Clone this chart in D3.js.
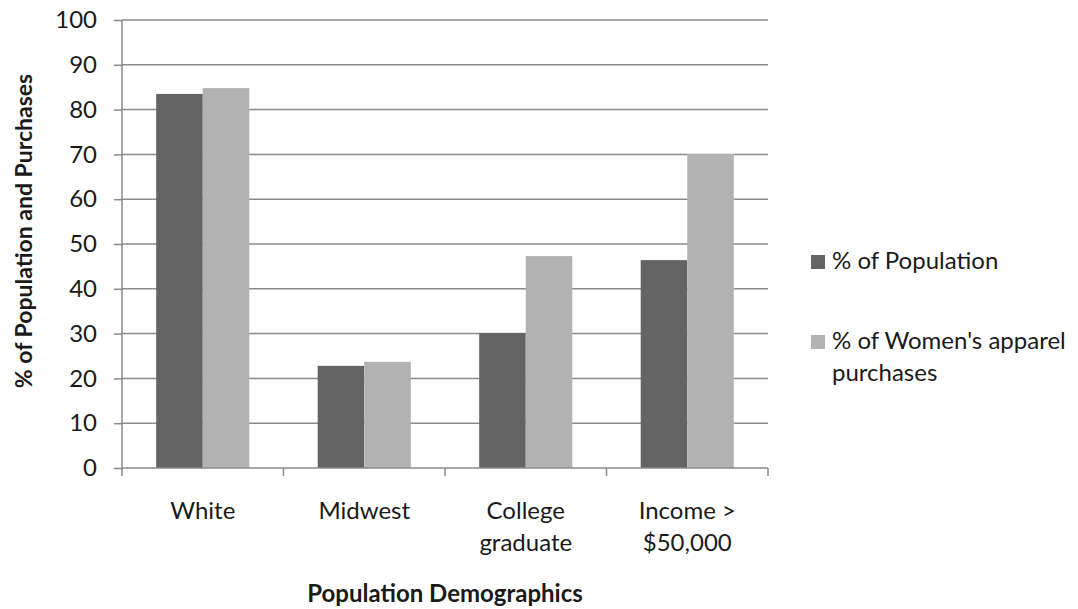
<!DOCTYPE html>
<html>
<head>
<meta charset="utf-8">
<script src="https://cdn.jsdelivr.net/npm/d3@7"></script>
<style>
  html, body { margin: 0; padding: 0; background: #fff; }
  svg { display: block; font-family: Lato, "Open Sans", sans-serif; }
</style>
</head>
<body>
<svg id="chart" width="1078" height="609"></svg>
<script>
// Demographic groups and the two compared shares (%)
const categories = [["White"], ["Midwest"], ["College", "graduate"], ["Income >", "$50,000"]];
const seriesNames = ["% of Population", "% of Women's apparel purchases"];
const populationShare = [83.5, 22.8, 30.1, 46.4];
const apparelShare = [84.8, 23.7, 47.3, 70.1];
const yTicks = [0, 10, 20, 30, 40, 50, 60, 70, 80, 90, 100];

const colors = ["#636363", "#b2b2b2"];
const gridColor = "#8a8a8a";
const textColor = "#1a1a1a";
const fontSize = "24px";

const svg = d3.select("#chart");
const plot = { left: 122, right: 768, top: 20, bottom: 468 };

const x = d3.scaleBand()
  .domain(d3.range(categories.length))
  .range([plot.left, plot.right])
  .paddingInner(0).paddingOuter(0);

const inner = d3.scaleBand()
  .domain([0, 1])
  .range([0, x.bandwidth()])
  .paddingInner(0)
  .paddingOuter(0.735);

const y = d3.scaleLinear().domain([0, 100]).range([plot.bottom, plot.top]);

// Horizontal gridlines
svg.append("g")
  .selectAll("line")
  .data(yTicks.filter(t => t > 0))
  .join("line")
  .attr("x1", plot.left).attr("x2", plot.right)
  .attr("y1", d => y(d)).attr("y2", d => y(d))
  .attr("stroke", gridColor).attr("stroke-width", 1.5);

// Bars
const series = [populationShare, apparelShare];
series.forEach((vals, s) => {
  svg.append("g")
    .selectAll("rect")
    .data(vals)
    .join("rect")
    .attr("x", (d, i) => x(i) + inner(s))
    .attr("y", d => y(d))
    .attr("width", inner.bandwidth())
    .attr("height", d => y(0) - y(d))
    .attr("fill", colors[s]);
});

// Y axis
const yAxis = svg.append("g")
  .attr("transform", `translate(${plot.left},0)`)
  .call(d3.axisLeft(y).tickValues(yTicks).tickSize(8).tickPadding(17).tickFormat(d3.format("d")));
yAxis.select(".domain").attr("stroke", gridColor).attr("stroke-width", 1.5).attr("d", `M0,${plot.top}V${plot.bottom}`);
yAxis.selectAll(".tick line").attr("stroke", gridColor).attr("stroke-width", 1.5);
yAxis.selectAll(".tick text").attr("fill", textColor).style("font-size", fontSize).attr("font-family", "Lato");

// X axis (category boundaries as ticks)
const xAxisG = svg.append("g");
xAxisG.append("line")
  .attr("x1", plot.left).attr("x2", plot.right)
  .attr("y1", plot.bottom).attr("y2", plot.bottom)
  .attr("stroke", gridColor).attr("stroke-width", 1.5);
xAxisG.selectAll("line.tick")
  .data(d3.range(categories.length + 1))
  .join("line")
  .attr("class", "tick")
  .attr("x1", i => plot.left + i * x.step()).attr("x2", i => plot.left + i * x.step())
  .attr("y1", plot.bottom).attr("y2", plot.bottom + 8)
  .attr("stroke", gridColor).attr("stroke-width", 1.5);

const labels = xAxisG.selectAll("text.cat")
  .data(categories)
  .join("text")
  .attr("class", "cat")
  .attr("text-anchor", "middle")
  .attr("fill", textColor)
  .style("font-size", fontSize)
  .attr("transform", (d, i) => `translate(${x(i) + x.bandwidth() / 2},${plot.bottom + 51})`);
labels.selectAll("tspan")
  .data(d => d)
  .join("tspan")
  .attr("x", 0)
  .attr("dy", (d, j) => j === 0 ? 0 : 32)
  .text(d => d);

// Axis titles
svg.append("text")
  .attr("x", (plot.left + plot.right) / 2)
  .attr("y", 602)
  .attr("text-anchor", "middle")
  .attr("font-weight", "bold")
  .attr("fill", textColor)
  .style("font-size", fontSize)
  .text("Population Demographics");

svg.append("text")
  .attr("transform", "translate(32,231) rotate(-90)")
  .attr("text-anchor", "middle")
  .attr("font-weight", "bold")
  .attr("fill", textColor)
  .style("font-size", "23px")
  .text("% of Population and Purchases");

// Legend
const legendItems = [
  { lines: ["% of Population"], y: 262 },
  { lines: ["% of Women's apparel", "purchases"], y: 342 }
];
const legend = svg.append("g");
legendItems.forEach((item, s) => {
  legend.append("rect")
    .attr("x", 811).attr("y", item.y - 7)
    .attr("width", 14).attr("height", 14)
    .attr("fill", colors[s]);
  const t = legend.append("text")
    .attr("x", 832).attr("y", item.y + 7)
    .attr("fill", textColor)
    .style("font-size", fontSize);
  item.lines.forEach((line, j) => {
    t.append("tspan").attr("x", 832).attr("dy", j === 0 ? 0 : 32).text(line);
  });
});
</script>
</body>
</html>
